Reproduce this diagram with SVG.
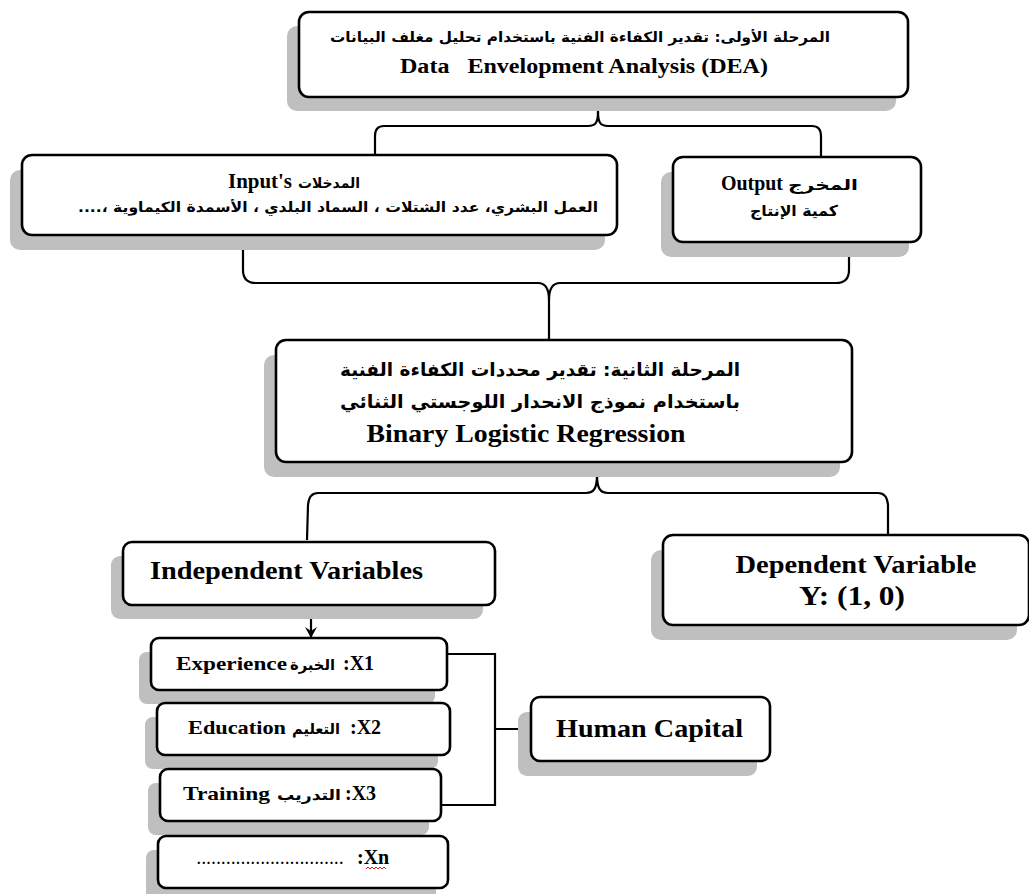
<svg xmlns="http://www.w3.org/2000/svg" width="1029" height="894" viewBox="0 0 1029 894">
<style>
.box{fill:#fff;stroke:#000;stroke-width:2.6}
.sh{fill:#bfbfbf}
.ln{fill:none;stroke:#000;stroke-width:2.2}
.en{font-family:"Liberation Serif","Times New Roman",serif;font-weight:bold;fill:#000}
.ar{font-family:"DejaVu Sans","Noto Sans",sans-serif;font-weight:bold;fill:#000}
</style>
<defs>
<marker id="ah" markerWidth="12" markerHeight="12" refX="10" refY="6" orient="auto" markerUnits="userSpaceOnUse" viewBox="0 0 12 12">
<path d="M0,0 L11,6 L0,12 L4,6 Z" fill="#000"/>
</marker>
</defs>

<g id="connectors">
<path class="ln" d="M598,97 V112 C598,122 596,126 588,126 H384 Q375,126 375,136 V155"/>
<path class="ln" d="M598,112 C598,122 600,126 608,126 H812 Q821,126 821,136 V157"/>
<path class="ln" d="M243,235 V270 Q243,283 256,283 H538 C546,283 549,290 549,300 V340"/>
<path class="ln" d="M849,242 V270 Q849,283 836,283 H560 C552,283 549,290 549,300"/>
<path class="ln" d="M597,462 V475 C597,488 594,493 586,493 H318 Q309,493 308,505 L307,540"/>
<path class="ln" d="M597,475 C597,488 600,493 608,493 H878 Q887,493 888,505 V535"/>
<path class="ln" d="M311,605 V637" marker-end="url(#ah)"/>
<path class="ln" d="M447,654 H495 V805 H441"/>
<path class="ln" d="M495,729 H531"/>
</g>

<g id="stage1">
<rect class="sh" x="287" y="26" width="609" height="85" rx="10"/>
<rect class="box" x="299" y="12" width="609" height="85" rx="10"/>
<text class="ar" x="580" y="42" font-size="14" text-anchor="middle" direction="rtl" textLength="500" lengthAdjust="spacingAndGlyphs">المرحلة الأولى: تقدير الكفاءة الفنية باستخدام تحليل مغلف البيانات</text>
<text class="en" x="584" y="73" font-size="20" text-anchor="middle" xml:space="preserve" textLength="368" lengthAdjust="spacingAndGlyphs">Data   Envelopment Analysis (DEA)</text>
</g>

<g id="inputs">
<rect class="sh" x="10" y="170" width="595" height="80" rx="10"/>
<rect class="box" x="22" y="155" width="595" height="80" rx="10"/>
<text class="en" x="228" y="188" font-size="20" textLength="64" lengthAdjust="spacingAndGlyphs">Input's</text>
<text class="ar" x="360" y="188" font-size="14" text-anchor="end" textLength="62" lengthAdjust="spacingAndGlyphs">المدخلات</text>
<text class="ar" x="598" y="212" font-size="14" direction="rtl" text-anchor="start" textLength="520" lengthAdjust="spacingAndGlyphs">العمل البشري، عدد الشتلات ، السماد البلدي ، الأسمدة الكيماوية ،....</text>
</g>

<g id="output">
<rect class="sh" x="661" y="172" width="248" height="85" rx="10"/>
<rect class="box" x="673" y="157" width="248" height="85" rx="10"/>
<text class="en" x="721" y="190" font-size="20" textLength="62" lengthAdjust="spacingAndGlyphs">Output</text>
<text class="ar" x="858" y="190" font-size="15" text-anchor="end" textLength="70" lengthAdjust="spacingAndGlyphs">المخرج</text>
<text class="ar" x="794" y="216" font-size="15" text-anchor="middle" direction="rtl" textLength="88" lengthAdjust="spacingAndGlyphs">كمية الإنتاج</text>
</g>

<g id="stage2">
<rect class="sh" x="264" y="355" width="576" height="122" rx="10"/>
<rect class="box" x="276" y="340" width="576" height="122" rx="10"/>
<text class="ar" x="540" y="376" font-size="18" text-anchor="middle" direction="rtl" textLength="400" lengthAdjust="spacingAndGlyphs">المرحلة الثانية: تقدير محددات الكفاءة الفنية</text>
<text class="ar" x="540" y="408" font-size="18" text-anchor="middle" direction="rtl" textLength="400" lengthAdjust="spacingAndGlyphs">باستخدام نموذج الانحدار اللوجستي الثنائي</text>
<text class="en" x="526" y="442" font-size="25" text-anchor="middle" textLength="319" lengthAdjust="spacingAndGlyphs">Binary Logistic Regression</text>
</g>

<g id="independent">
<rect class="sh" x="111" y="556" width="372" height="63" rx="9"/>
<rect class="box" x="123" y="542" width="372" height="63" rx="9"/>
<text class="en" x="150" y="579" font-size="25" textLength="273" lengthAdjust="spacingAndGlyphs">Independent Variables</text>
</g>

<g id="dependent">
<rect class="sh" x="651" y="550" width="366" height="90" rx="10"/>
<rect class="box" x="663" y="535" width="366" height="90" rx="10"/>
<text class="en" x="856" y="573" font-size="25" text-anchor="middle" textLength="241" lengthAdjust="spacingAndGlyphs">Dependent Variable</text>
<text class="en" x="852" y="605" font-size="28" text-anchor="middle" textLength="106" lengthAdjust="spacingAndGlyphs">Y: (1, 0)</text>
</g>

<g id="x1">
<rect class="sh" x="139" y="652" width="296" height="52" rx="8"/>
<rect class="box" x="151" y="638" width="296" height="52" rx="8"/>
<text class="en" x="176" y="670" font-size="19" textLength="111" lengthAdjust="spacingAndGlyphs">Experience</text>
<text class="ar" x="335" y="670" font-size="15" text-anchor="end" textLength="45" lengthAdjust="spacingAndGlyphs">الخبرة</text>
<text class="en" x="343" y="670" font-size="20">:X1</text>
</g>

<g id="x2">
<rect class="sh" x="145" y="717" width="293" height="52" rx="8"/>
<rect class="box" x="157" y="703" width="293" height="52" rx="8"/>
<text class="en" x="188" y="734" font-size="19" textLength="98" lengthAdjust="spacingAndGlyphs">Education</text>
<text class="ar" x="340" y="734" font-size="15" text-anchor="end" textLength="48" lengthAdjust="spacingAndGlyphs">التعليم</text>
<text class="en" x="350" y="734" font-size="20">:X2</text>
</g>

<g id="x3">
<rect class="sh" x="148" y="783" width="281" height="52" rx="8"/>
<rect class="box" x="160" y="769" width="281" height="52" rx="8"/>
<text class="en" x="183" y="800" font-size="19" textLength="87" lengthAdjust="spacingAndGlyphs">Training</text>
<text class="ar" x="341" y="800" font-size="15" text-anchor="end" textLength="64" lengthAdjust="spacingAndGlyphs">التدريب</text>
<text class="en" x="345" y="800" font-size="20">:X3</text>
</g>

<g id="xn">
<rect class="sh" x="146" y="850" width="290" height="52" rx="8"/>
<rect class="box" x="158" y="836" width="290" height="52" rx="8"/>
<text class="en" x="197" y="864" font-size="14" font-weight="normal" textLength="146" lengthAdjust="spacing">..............................</text>
<text class="en" x="357" y="864" font-size="20">:Xn</text>
<path d="M366,869 l2,-2 l2,2 l2,-2 l2,2 l2,-2 l2,2 l2,-2 l2,2 l2,-2 l2,2" fill="none" stroke="#e02020" stroke-width="1"/>
</g>

<g id="human-capital">
<rect class="sh" x="518" y="712" width="239" height="64" rx="9"/>
<rect class="box" x="531" y="697" width="239" height="64" rx="9"/>
<text class="en" x="556" y="737" font-size="25" textLength="187" lengthAdjust="spacingAndGlyphs">Human Capital</text>
</g>
</svg>
